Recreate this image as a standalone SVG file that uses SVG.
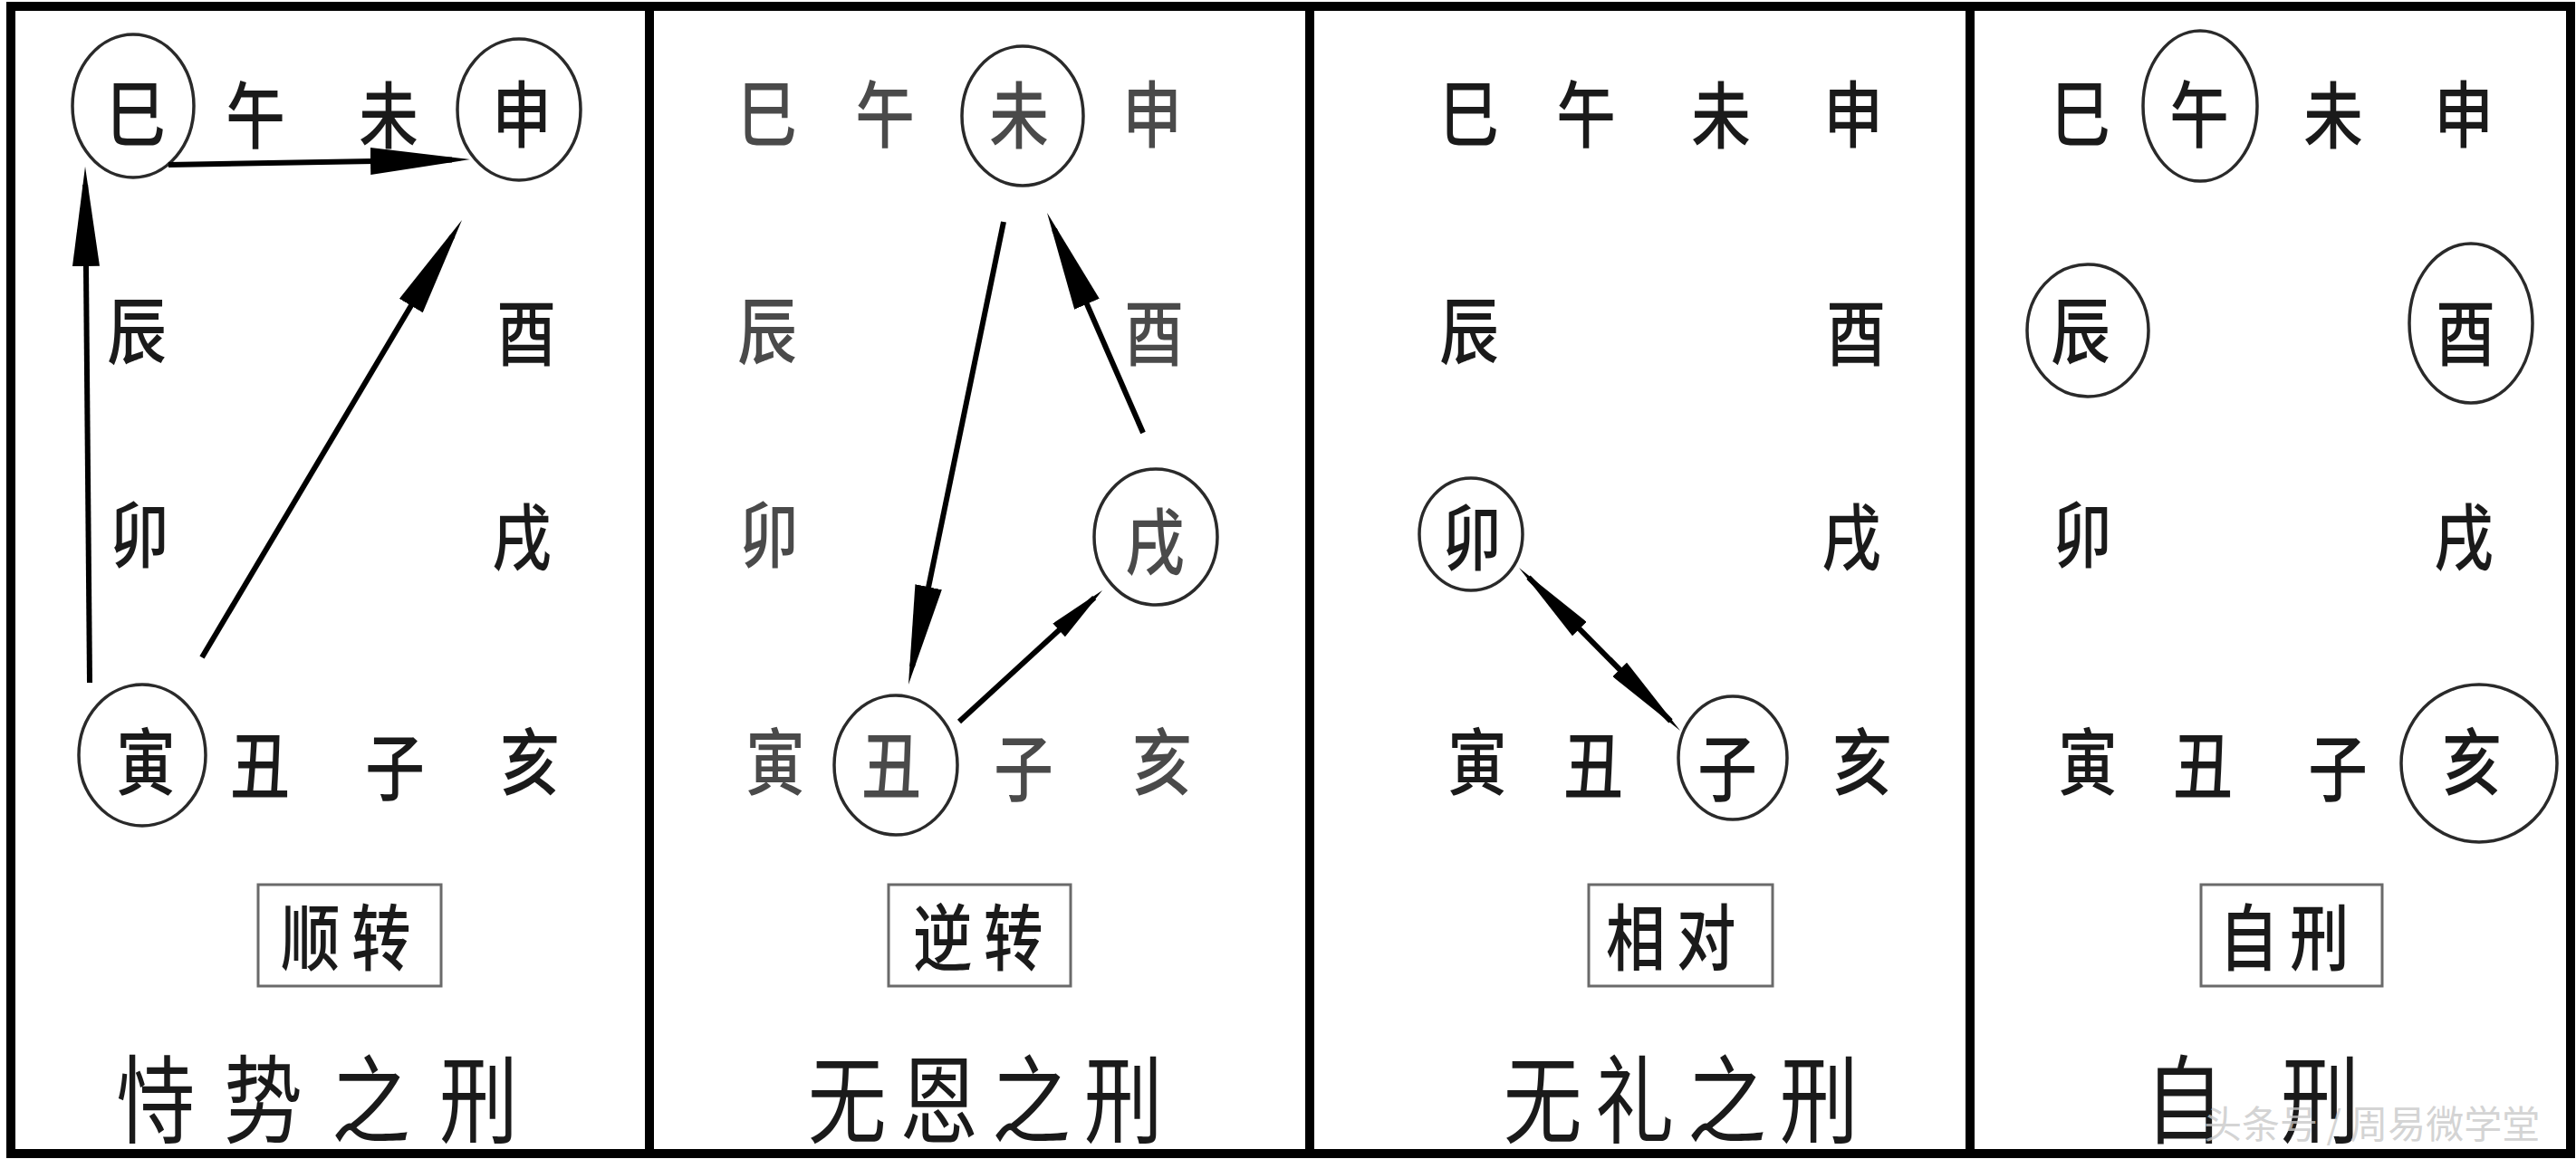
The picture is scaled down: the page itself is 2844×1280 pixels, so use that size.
<svg xmlns="http://www.w3.org/2000/svg" width="2844" height="1280" viewBox="0 0 2844 1280">
<style>
.ch { font-family: "Noto Sans CJK SC", "Noto Sans CJK TC", sans-serif; font-size: 80px; font-weight: 500; fill: #1a1a1a; text-anchor: middle; dominant-baseline: central; transform-box: fill-box; transform-origin: center; transform: scaleX(0.82); }
.g2 { fill: #4a4a4a; }
.lab { font-size: 80px; letter-spacing: 15px; }
.ttl { font-size: 106px; font-weight: 400; }
.wm { font-family: "Noto Sans CJK SC", sans-serif; font-size: 42px; fill: #c8c8c8; fill-opacity: 0.8; dominant-baseline: central; }
.ring { fill: none; stroke: #2a2a2a; stroke-width: 3.5; }
.box { fill: none; stroke: #6a6a6a; stroke-width: 3; }
.frame { fill: none; stroke: #000; stroke-width: 10; }
.arr { stroke: #000; stroke-width: 6; fill: none; }
</style>
<defs>
<marker id="ah" markerUnits="userSpaceOnUse" markerWidth="110" markerHeight="30" refX="90" refY="15" orient="auto"><path d="M0,0 L110,15 L0,30 Z" fill="#000"/></marker>
<marker id="ahs" markerUnits="userSpaceOnUse" markerWidth="65" markerHeight="20" refX="53" refY="10" orient="auto"><path d="M0,0 L65,10 L0,20 Z" fill="#000"/></marker>
<marker id="ahd" markerUnits="userSpaceOnUse" markerWidth="95" markerHeight="22" refX="80" refY="11" orient="auto-start-reverse"><path d="M0,0 L95,11 L0,22 Z" fill="#000"/></marker>
</defs>
<rect width="2844" height="1280" fill="#fff"/>
<g id="frame">
<rect class="frame" x="12" y="7" width="2826" height="1267"/>
<line class="frame" x1="717" y1="7" x2="717" y2="1274"/>
<line class="frame" x1="1446" y1="7" x2="1446" y2="1274"/>
<line class="frame" x1="2175" y1="7" x2="2175" y2="1274"/>
</g>

<!-- Panel 1 -->
<g id="p1">
<g id="p1-si"><ellipse class="ring" cx="147" cy="117" rx="67" ry="79"/><text class="ch" x="150" y="120">巳</text></g>
<g id="p1-wu"><text class="ch" x="282" y="122">午</text></g>
<g id="p1-wei"><text class="ch" x="429" y="122">未</text></g>
<g id="p1-shen"><ellipse class="ring" cx="573" cy="121" rx="68" ry="78"/><text class="ch" x="576" y="121">申</text></g>
<g id="p1-chen"><text class="ch" x="151" y="360">辰</text></g>
<g id="p1-you"><text class="ch" x="581" y="362">酉</text></g>
<g id="p1-mao"><text class="ch" x="154" y="585">卯</text></g>
<g id="p1-xu"><text class="ch" x="576" y="588">戌</text></g>
<g id="p1-yin"><ellipse class="ring" cx="157" cy="834" rx="70" ry="78"/><text class="ch" x="161" y="836">寅</text></g>
<g id="p1-chou"><text class="ch" x="287" y="840">丑</text></g>
<g id="p1-zi"><text class="ch" x="436" y="842">子</text></g>
<g id="p1-hai"><text class="ch" x="585" y="836">亥</text></g>
<g id="p1-label"><rect class="box" x="285" y="977" width="202" height="112"/><text class="ch lab" x="388" y="1030">顺转</text></g>
<g id="p1-title"><text class="ch ttl" x="366" y="1208" style="letter-spacing:39px">恃势之刑</text></g>
</g>

<!-- Panel 2 -->
<g id="p2">
<g id="p2-si"><text class="ch g2" x="847" y="120">巳</text></g>
<g id="p2-wu"><text class="ch g2" x="977" y="121">午</text></g>
<g id="p2-wei"><ellipse class="ring" cx="1129" cy="128" rx="67" ry="77"/><text class="ch g2" x="1125" y="122">未</text></g>
<g id="p2-shen"><text class="ch g2" x="1272" y="121">申</text></g>
<g id="p2-chen"><text class="ch g2" x="847" y="360">辰</text></g>
<g id="p2-you"><text class="ch g2" x="1274" y="362">酉</text></g>
<g id="p2-mao"><text class="ch g2" x="849" y="585">卯</text></g>
<g id="p2-xu"><ellipse class="ring" cx="1276" cy="593" rx="68" ry="75"/><text class="ch g2" x="1275" y="593">戌</text></g>
<g id="p2-yin"><text class="ch g2" x="856" y="836">寅</text></g>
<g id="p2-chou"><ellipse class="ring" cx="989" cy="845" rx="68" ry="77"/><text class="ch g2" x="984" y="840">丑</text></g>
<g id="p2-zi"><text class="ch g2" x="1130" y="843">子</text></g>
<g id="p2-hai"><text class="ch g2" x="1283" y="836">亥</text></g>
<g id="p2-label"><rect class="box" x="981" y="977" width="201" height="112"/><text class="ch lab" x="1086" y="1030">逆转</text></g>
<g id="p2-title"><text class="ch ttl" x="1095" y="1208" style="letter-spacing:18px">无恩之刑</text></g>
</g>

<!-- Panel 3 -->
<g id="p3">
<g id="p3-si"><text class="ch" x="1622" y="120">巳</text></g>
<g id="p3-wu"><text class="ch" x="1751" y="121">午</text></g>
<g id="p3-wei"><text class="ch" x="1900" y="122">未</text></g>
<g id="p3-shen"><text class="ch" x="2046" y="121">申</text></g>
<g id="p3-chen"><text class="ch" x="1622" y="360">辰</text></g>
<g id="p3-you"><text class="ch" x="2049" y="362">酉</text></g>
<g id="p3-mao"><ellipse class="ring" cx="1624" cy="590" rx="57" ry="62"/><text class="ch" x="1625" y="588">卯</text></g>
<g id="p3-xu"><text class="ch" x="2044" y="588">戌</text></g>
<g id="p3-yin"><text class="ch" x="1631" y="836">寅</text></g>
<g id="p3-chou"><text class="ch" x="1759" y="840">丑</text></g>
<g id="p3-zi"><ellipse class="ring" cx="1913" cy="837" rx="60" ry="68"/><text class="ch" x="1907" y="843">子</text></g>
<g id="p3-hai"><text class="ch" x="2056" y="836">亥</text></g>
<g id="p3-label"><rect class="box" x="1754" y="977" width="203" height="112"/><text class="ch lab" x="1851" y="1030">相对</text></g>
<g id="p3-title"><text class="ch ttl" x="1863" y="1208" style="letter-spacing:18px">无礼之刑</text></g>
</g>

<!-- Panel 4 -->
<g id="p4">
<g id="p4-si"><text class="ch" x="2297" y="120">巳</text></g>
<g id="p4-wu"><ellipse class="ring" cx="2429" cy="117" rx="63" ry="83"/><text class="ch" x="2428" y="121">午</text></g>
<g id="p4-wei"><text class="ch" x="2576" y="122">未</text></g>
<g id="p4-shen"><text class="ch" x="2720" y="121">申</text></g>
<g id="p4-chen"><ellipse class="ring" cx="2305" cy="365" rx="67" ry="73"/><text class="ch" x="2297" y="360">辰</text></g>
<g id="p4-you"><ellipse class="ring" cx="2728" cy="357" rx="68" ry="88"/><text class="ch" x="2722" y="362">酉</text></g>
<g id="p4-mao"><text class="ch" x="2299" y="585">卯</text></g>
<g id="p4-xu"><text class="ch" x="2720" y="588">戌</text></g>
<g id="p4-yin"><text class="ch" x="2305" y="836">寅</text></g>
<g id="p4-chou"><text class="ch" x="2432" y="840">丑</text></g>
<g id="p4-zi"><text class="ch" x="2581" y="843">子</text></g>
<g id="p4-hai"><ellipse class="ring" cx="2737" cy="843" rx="86" ry="87"/><text class="ch" x="2729" y="836">亥</text></g>
<g id="p4-label"><rect class="box" x="2430" y="977" width="200" height="112"/><text class="ch lab" x="2528" y="1030">自刑</text></g>
<g id="p4-title"><text class="ch ttl" x="2518" y="1208" style="letter-spacing:77px">自刑</text></g>
<text class="wm" x="2433" y="1238">头条号 / 周易微学堂</text>
</g>

<g id="connectors">
<line class="arr" x1="99" y1="754" x2="94.2" y2="204" marker-end="url(#ah)"/>
<line class="arr" x1="186" y1="182" x2="499" y2="176.4" marker-end="url(#ah)"/>
<line class="arr" x1="223" y1="726" x2="499.8" y2="260.2" marker-end="url(#ah)"/>
<line class="arr" x1="1108" y1="245" x2="1007" y2="736.4" marker-end="url(#ah)"/>
<line class="arr" x1="1262" y1="478" x2="1164" y2="253.3" marker-end="url(#ah)"/>
<line class="arr" x1="1059" y1="797" x2="1208.2" y2="660.1" stroke-width="4" marker-end="url(#ahs)"/>
<line class="arr" x1="1687.5" y1="637.7" x2="1844.5" y2="796.3" marker-start="url(#ahd)" marker-end="url(#ahd)"/>
</g>
</svg>
